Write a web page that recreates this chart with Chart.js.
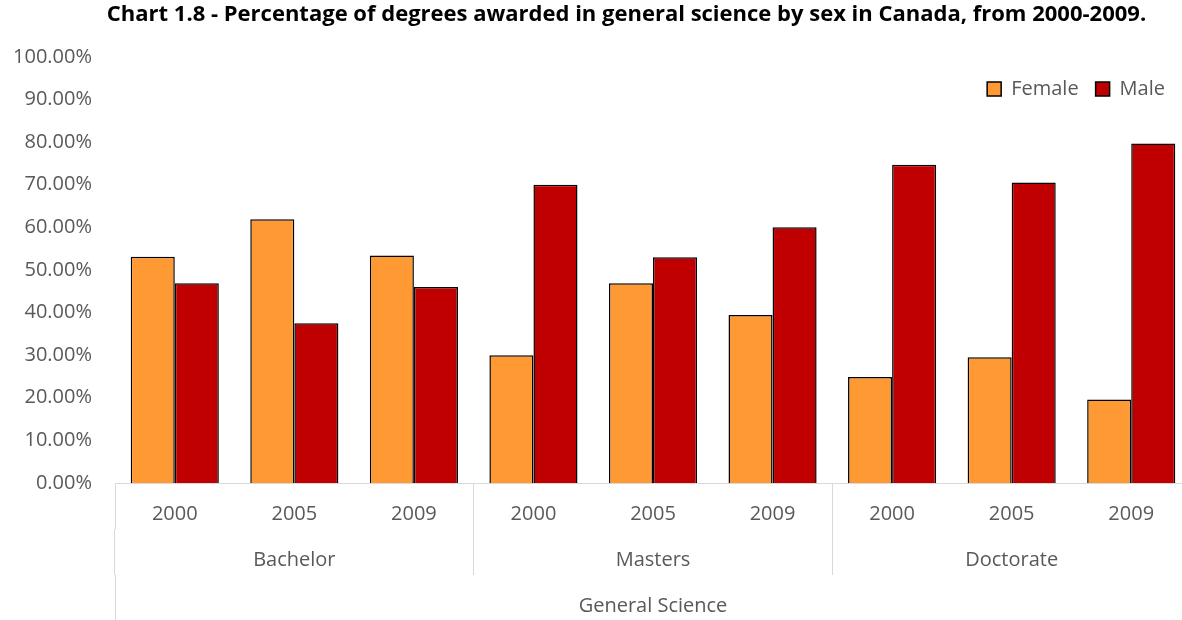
<!DOCTYPE html>
<html>
<head>
<meta charset="utf-8">
<script src="https://cdn.jsdelivr.net/npm/chart.js@4"></script>
<style>
  html, body { margin: 0; padding: 0; background: #fff; overflow: hidden; }
</style>
</head>
<body>
<canvas id="myChart" width="1191" height="620"></canvas>
<script>

// chart data
var years = ['2000', '2005', '2009', '2000', '2005', '2009', '2000', '2005', '2009'];
var degrees = ['Bachelor', 'Masters', 'Doctorate'];
var field = ['General Science'];

var female = [53.1, 61.9, 53.4, 30.0, 46.9, 39.4, 24.9, 29.5, 19.6];
var male = [46.9, 37.5, 46.0, 70.0, 53.0, 60.0, 74.7, 70.5, 79.7];

var yTicks = [0, 10, 20, 30, 40, 50, 60, 70, 80, 90, 100];

Chart.defaults.font.family = "'Open Sans', sans-serif";
Chart.defaults.font.size = 20;
Chart.defaults.color = '#595959';

// legend sits inside the plot (top right) and takes no layout room,
// title is centred a bit right of the canvas middle like the original
var placeBoxes = {
	id: 'placeBoxes',
	afterInit(chart){
		var lg = chart.legend;
		var fit = lg.fit;
		lg.fit = function(){
			fit.call(this);
			this.height = 0;
		};
	},
	afterLayout(chart){
		var lg = chart.legend;
		lg.top = 62;
		lg.bottom = 110;
		lg.right = 1182;

		var tb = chart.titleBlock;
		tb.left = 62;
	}
};

function rowHeight(h){
	return function(scale){ scale.height = h; };
}

var ctx = document.getElementById('myChart').getContext('2d');
var chart = new Chart(ctx, {
	type: 'bar',
	data: {
		labels: years,
		datasets: [{
			label: 'Female',
			backgroundColor: '#FF9933',
			borderColor: '#000000',
			borderWidth: 1.5,
			data: female
		},{
			label: 'Male',
			backgroundColor: '#C00000',
			borderColor: '#000000',
			borderWidth: 1.5,
			data: male
		}]
	},
	plugins: [placeBoxes],
	options: {
		responsive: false,
		animation: false,
		devicePixelRatio: 1,
		layout: { padding: 0 },
		datasets: {
			bar: { categoryPercentage: 0.737, barPercentage: 1 }
		},
		plugins: {
			title: {
				display: true,
				text: 'Chart 1.8 - Percentage of degrees awarded in general science by sex in Canada, from 2000-2009.',
				color: '#000000',
				font: { size: 22, weight: 'bold' },
				padding: { top: 1.5, bottom: 29 }
			},
			legend: {
				position: 'top',
				align: 'end',
				labels: {
					boxWidth: 14,
					boxHeight: 14,
					padding: 17,
					color: '#595959',
					font: { size: 20 }
				}
			},
			tooltip: { enabled: false }
		},
		scales: {
			y: {
				min: 0,
				max: 100,
				afterBuildTicks(scale){
					scale.ticks = yTicks.map(function(v){ return { value: v }; });
				},
				afterFit(scale){ scale.width = 115; },
				grid: { display: false, drawTicks: false },
				border: { display: false },
				ticks: {
					padding: 23,
					callback: function(v){ return Number(v).toFixed(2) + '%'; }
				}
			},
			x: {
				weight: 0,
				offset: true,
				afterFit: rowHeight(46),
				border: { display: true, color: '#D9D9D9' },
				grid: {
					offset: true,
					drawOnChartArea: false,
					tickLength: 46,
					color: function(c){
						return (c.type !== 'tick' || c.index % 3 === 0) ? '#D9D9D9' : 'rgba(0,0,0,0)';
					}
				},
				ticks: { padding: -27, autoSkip: false, maxRotation: 0 }
			},
			x2: {
				type: 'category',
				position: 'bottom',
				labels: degrees,
				weight: 1,
				offset: true,
				afterFit: rowHeight(46),
				border: { display: false },
				grid: {
					offset: true,
					drawOnChartArea: false,
					tickLength: 46,
					color: '#D9D9D9'
				},
				ticks: { padding: -27, autoSkip: false, maxRotation: 0 }
			},
			x3: {
				type: 'category',
				position: 'bottom',
				labels: field,
				weight: 2,
				offset: true,
				afterFit: rowHeight(45),
				border: { display: false },
				grid: {
					offset: true,
					drawOnChartArea: false,
					tickLength: 45,
					color: '#D9D9D9'
				},
				ticks: { padding: -26, autoSkip: false, maxRotation: 0 }
			}
		}
	}
});

</script>
</body>
</html>
